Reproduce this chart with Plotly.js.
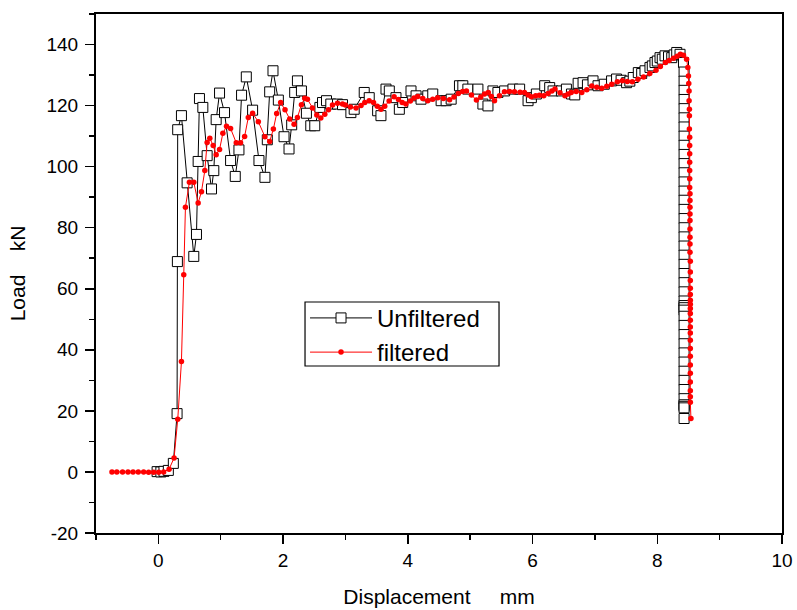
<!DOCTYPE html>
<html>
<head>
<meta charset="utf-8">
<script src="https://cdn.plot.ly/plotly-3.0.1.min.js"></script>
<style>html,body{margin:0;padding:0;background:#fff;}#chart{width:797px;height:610px;}</style>
</head>
<body>
<div id="chart"></div>
<script>
// Unfiltered load (kN) vs displacement (mm)
const unfilteredX = [-0.02,0.04,0.09,0.16,0.24,0.30,0.305,0.31,0.37,0.461,0.568,0.611,0.638,0.659,0.713,0.782,0.852,0.889,0.927,0.981,1.061,1.158,1.233,1.292,1.334,1.41,1.511,1.613,1.709,1.747,1.785,1.838,1.924,2.015,2.095,2.138,2.186,2.23,2.294,2.374,2.444,2.508,2.59,2.632,2.696,2.765,2.873,2.953,3.087,3.14,3.301,3.381,3.516,3.569,3.65,3.703,3.81,3.864,3.918,4.051,4.132,4.212,4.32,4.4,4.534,4.614,4.695,4.828,4.882,4.963,5.124,5.204,5.285,5.365,5.445,5.552,5.686,5.793,5.928,5.981,6.061,6.195,6.275,6.329,6.463,6.543,6.624,6.677,6.731,6.81,6.88,6.97,7.05,7.15,7.267,7.347,7.42,7.508,7.56,7.615,7.696,7.75,7.803,7.883,7.92,7.963,8.0,8.044,8.08,8.124,8.18,8.232,8.27,8.312,8.365,8.42,
8.43,8.43,8.43,8.43,8.43,8.43,8.43,8.43,8.43,8.43,8.43,8.43,8.43,8.43,8.43,8.43,8.43,8.43,8.43,8.43,8.43,8.43,8.43,8.43,8.43,8.43,8.43,8.43,8.43,8.43,8.43,8.43,8.43,8.43,8.43,8.43,8.43,8.43,8.43,8.43,8.43,8.43,8.43];
const unfilteredY = [0.1,0.0,0.2,0.5,2.8,19.1,68.9,112.1,116.7,94.7,70.6,77.8,101.7,122.3,119.4,103.6,92.7,98.7,115.4,124.1,117.7,102.0,96.8,105.5,123.4,129.4,118.5,102.0,96.5,108.8,124.5,131.4,121.8,109.8,105.8,113.7,124.3,128.1,124.8,117.5,113.4,113.4,119.4,121.0,121.6,120.5,120.5,120.3,117.7,118.8,124.3,122.6,118.3,116.7,125.4,124.8,122.6,118.8,121.0,124.8,123.2,122.1,123.2,123.8,121.6,121.6,122.1,126.5,126.5,125.4,125.4,120.5,119.9,124.8,124.3,124.8,125.4,125.4,121.6,122.6,123.8,126.5,125.9,124.8,124.8,125.4,123.8,123.5,127.3,127.5,126.8,128.1,126.5,127.0,128.1,128.7,128.3,127.5,128.0,129.2,130.8,130.5,131.4,132.5,133.0,134.1,134.6,135.7,135.2,136.3,136.0,135.7,136.6,137.4,136.8,134.1,
131,128,125,122,119,116,113,110,107,104,101,98,95,92,89,86,83,80,77,74,71,68,65,62,59,56,54.5,53.8,53,51,48,45,42,39,36,33,30,27,24,22,21.5,21,17.5];

// Filtered load (kN) vs displacement (mm)
const filteredX = [-0.744,-0.666,-0.574,-0.487,-0.406,-0.322,-0.236,-0.156,-0.076,0.005,0.085,0.172,0.252,0.311,0.370,0.407,0.434,0.498,0.568,0.638,0.691,0.745,0.782,0.825,0.879,0.927,0.981,1.034,1.093,1.158,1.249,1.318,1.383,1.442,1.511,1.603,1.709,1.785,1.844,1.897,1.961,2.031,2.106,2.176,2.230,2.294,2.347,2.390,2.471,2.540,2.605,2.669,2.728,2.792,2.873,2.953,
3.0,3.08,3.17,3.25,3.31,3.38,3.45,3.51,3.57,3.63,3.70,3.78,3.85,3.91,3.97,4.04,4.10,4.16,4.24,4.32,4.40,4.48,4.57,4.67,4.74,4.81,4.88,4.94,5.02,5.10,5.17,5.23,5.29,5.34,5.39,5.47,5.55,5.63,5.71,5.80,5.87,5.93,5.98,6.05,6.11,6.18,6.25,6.31,6.36,6.44,6.52,6.57,6.62,6.70,6.79,6.87,6.95,7.03,7.11,7.19,7.27,7.36,7.44,7.52,7.60,7.69,7.78,7.88,7.98,8.05,8.13,8.19,8.26,8.32,8.37,8.42,
8.47,8.49,8.50,8.505,8.51,8.51,8.515,8.515,8.515,8.52,8.52,8.52,8.52,8.52,8.52,8.52,8.525,8.525,8.525,8.525,8.525,8.525,8.525,8.525,8.525,8.53,8.53,8.53,8.53,8.53,8.53,8.53,8.53,8.53,8.53,8.53,8.53,8.53,8.53,8.53,8.53,8.53,8.53,8.53,8.53,8.53,8.54];
const filteredY = [0,0,0,0,0,0,0,-0.1,-0.1,-0.1,0,0.9,4.6,17.3,36.2,64.6,86.7,94.9,94.9,88.1,91.8,98.7,107.9,109.3,106.9,103.9,105.6,110.9,113.2,112.5,107.8,107.8,109.9,116.1,117.5,114.7,109.8,108.2,112.3,117.4,121.0,118.6,115.6,113.9,116.1,120.3,122.4,122.1,119.2,116.9,115.9,117.2,118.6,120.2,120.8,120.5,
120.2,119.5,119.2,120.0,121.0,121.6,121.0,119.8,118.8,119.8,121.5,122.9,122.0,121.0,120.5,121.5,122.5,123.0,122.3,121.6,122.1,122.6,122.3,121.9,122.8,124.0,124.6,124.8,123.5,121.8,122.8,123.8,124.3,123.0,121.6,123.2,124.5,124.6,124.5,124.4,124.3,123.5,122.9,123.2,123.4,123.2,124.0,124.8,125.4,124.2,123.2,123.8,124.3,124.6,124.3,125.2,126.4,126.0,125.7,126.3,127.0,127.8,128.1,127.9,127.8,128.6,129.4,130.5,131.6,132.8,134.1,134.8,135.5,136.2,136.8,136.5,
135.2,132.5,129.7,127.2,124.8,121.6,118.8,116.7,112.3,109.6,106.9,104.2,101.4,98.7,96.0,93.2,91.1,88.9,86.7,84.5,82.4,79.6,76.9,74.7,72.0,69.0,65.5,62.7,60.2,58.1,56.2,54.9,53.5,51.9,49.7,47.5,45.5,43.1,40.4,37.9,35.0,32.3,29.5,26.6,24.6,22.8,17.5];

const seriesNames = ["Unfiltered", "filtered"];
const xTitle = "Displacement\u00a0\u00a0\u00a0\u00a0\u00a0mm";
const yTitle = "Load\u00a0\u00a0\u00a0\u00a0kN";

// Tick labels (hyphen-minus as in the original)
const xTickVals = [0, 2, 4, 6, 8, 10];
const xTickText = ["0", "2", "4", "6", "8", "10"];
const xMinorVals = [-1, 1, 3, 5, 7, 9];
const yTickVals = [-20, 0, 20, 40, 60, 80, 100, 120, 140];
const yTickText = ["-20", "0", "20", "40", "60", "80", "100", "120", "140"];
const yMinorVals = [-10, 10, 30, 50, 70, 90, 110, 130, 150];

const FONT = "Liberation Sans, Arial, sans-serif";

const traces = [
  {
    x: unfilteredX, y: unfilteredY, name: seriesNames[0],
    type: "scatter", mode: "lines+markers",
    line: {color: "#000000", width: 1},
    marker: {symbol: "square", size: 10, color: "#ffffff", line: {color: "#000000", width: 1}}
  },
  {
    x: filteredX, y: filteredY, name: seriesNames[1],
    type: "scatter", mode: "lines+markers",
    line: {color: "#ff0000", width: 1},
    marker: {symbol: "circle", size: 5.5, color: "#ff0000"}
  }
];

const axisCommon = {
  showgrid: false, zeroline: false,
  showline: true, linecolor: "#000", linewidth: 2, mirror: true,
  ticks: "outside", ticklen: 9, tickwidth: 1.5, tickcolor: "#000",
  tickfont: {family: FONT, size: 19, color: "#000"},
  tickmode: "array"
};
const minorCommon = {ticks: "outside", ticklen: 5, tickwidth: 1.5, tickcolor: "#000", showgrid: false, tickmode: "array"};

const layout = {
  width: 797, height: 610,
  paper_bgcolor: "#fff", plot_bgcolor: "#fff",
  margin: {l: 96, r: 15, t: 14, b: 77},
  font: {family: FONT, color: "#000"},
  xaxis: Object.assign({}, axisCommon, {
    range: [-1, 10], tickvals: xTickVals, ticktext: xTickText,
    minor: Object.assign({}, minorCommon, {tickvals: xMinorVals}),
    title: {text: xTitle, font: {family: FONT, size: 21, color: "#000"}, standoff: 20}
  }),
  yaxis: Object.assign({}, axisCommon, {
    range: [-20, 150], tickvals: yTickVals, ticktext: yTickText,
    ticklabelstandoff: 3,
    minor: Object.assign({}, minorCommon, {tickvals: yMinorVals}),
    title: {text: yTitle, font: {family: FONT, size: 21, color: "#000"}, standoff: 15}
  }),
  showlegend: true,
  legend: {
    x: 0.3047, y: 0.457, xanchor: "left", yanchor: "top",
    bgcolor: "rgba(0,0,0,0)", borderwidth: 0,
    font: {family: FONT, size: 24, color: "#000"},
    itemwidth: 62, tracegroupgap: 0
  },
  shapes: [{
    type: "rect", xref: "paper", yref: "paper",
    x0: 0.3047, x1: 0.5875, y0: 0.3218, y1: 0.4451,
    line: {color: "#000", width: 1.2}, fillcolor: "rgba(255,255,255,1)", layer: "below"
  }]
};

Plotly.newPlot("chart", traces, layout, {displayModeBar: false, staticPlot: true});
</script>
</body>
</html>
